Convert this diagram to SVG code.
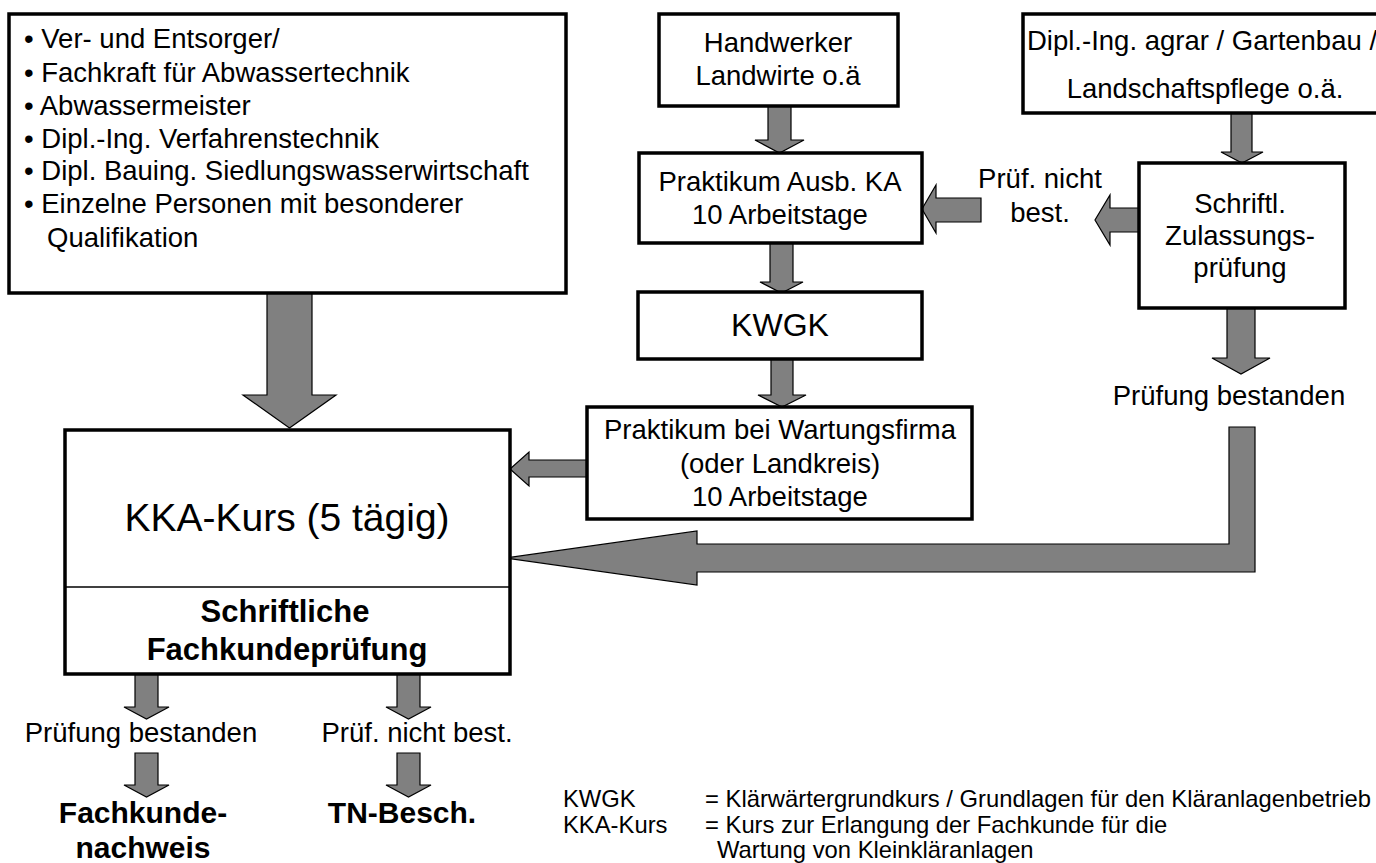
<svg xmlns="http://www.w3.org/2000/svg" width="1376" height="863" viewBox="0 0 1376 863">
<style>
.box{fill:#fff;stroke:#000;stroke-width:3.5}
.arr{fill:#808080;stroke:#000;stroke-width:1.2;stroke-linejoin:miter}
text{font-family:"Liberation Sans",Arial,sans-serif;fill:#000}
.t{font-size:27.5px}
.c{text-anchor:middle}
.b{font-weight:bold}
.lg{font-size:23.8px}
</style>
<rect width="1376" height="863" fill="#fff"/>
<g id="connectors">
<polygon class="arr" points="768,106 791,106 791,140 804,140 779.5,153 755,140 768,140"/>
<polygon class="arr" points="770,243 793,243 793,282 803,282 781.5,293 760,282 770,282"/>
<polygon class="arr" points="771,359 793,359 793,395 806,395 782,407 758,395 771,395"/>
<polygon class="arr" points="1231,113 1252,113 1252,152 1263,152 1242,163 1221,152 1231,152"/>
<polygon class="arr" points="1227,308 1255,308 1255,358 1270,358 1241,374 1212,358 1227,358"/>
<polygon class="arr" points="1139,208 1110,208 1110,195 1095,220 1110,245 1110,232 1139,232"/>
<polygon class="arr" points="981,198 936,198 936,185 922,209 936,233 936,222 981,222"/>
<polygon class="arr" points="587,460 529,460 529,452 510,469 529,486 529,477 587,477"/>
<polygon class="arr" points="267,293 312,293 312,395 336,395 289.5,428 243,395 267,395"/>
<polygon class="arr" points="506,558 697,531 697,544 1229,544 1229,427 1255,427 1255,572 697,572 697,585"/>
<polygon class="arr" points="135,674 158,674 158,707 169,707 146.5,719 124,707 135,707"/>
<polygon class="arr" points="397,674 420,674 420,707 431,707 408.5,719 386,707 397,707"/>
<polygon class="arr" points="135,753 158,753 158,785 169,785 146.5,797 124,785 135,785"/>
<polygon class="arr" points="397,753 420,753 420,785 431,785 408.5,797 386,785 397,785"/>
</g>
<g id="n_qual">
<rect class="box" x="9" y="14" width="557" height="279"/>
<text class="t" x="24" y="48">• Ver- und Entsorger/</text>
<text class="t" x="24" y="82">• Fachkraft für Abwassertechnik</text>
<text class="t" x="24" y="115">• Abwassermeister</text>
<text class="t" x="24" y="148">• Dipl.-Ing. Verfahrenstechnik</text>
<text class="t" x="24" y="180">• Dipl. Bauing. Siedlungswasserwirtschaft</text>
<text class="t" x="24" y="213">• Einzelne Personen mit besonderer</text>
<text class="t" x="47" y="247">Qualifikation</text>
</g>
<g id="n_handwerker">
<rect class="box" x="659" y="14" width="239" height="92"/>
<text class="t c" x="778" y="52">Handwerker</text>
<text class="t c" x="778" y="85">Landwirte o.ä</text>
</g>
<g id="n_praktikum_ka">
<rect class="box" x="639" y="153" width="283" height="90"/>
<text class="t c" x="780" y="191">Praktikum Ausb. KA</text>
<text class="t c" x="780" y="224">10 Arbeitstage</text>
</g>
<g id="n_kwgk">
<rect class="box" x="638" y="292" width="284" height="67"/>
<text class="c" x="780" y="336" font-size="32">KWGK</text>
</g>
<g id="n_wartung">
<rect class="box" x="587" y="407" width="385" height="112"/>
<text class="t c" x="780" y="439">Praktikum bei Wartungsfirma</text>
<text class="t c" x="780" y="473">(oder Landkreis)</text>
<text class="t c" x="780" y="506">10 Arbeitstage</text>
</g>
<g id="n_dipl">
<rect class="box" x="1023" y="14" width="370" height="99"/>
<text class="t" x="1027" y="50">Dipl.-Ing. agrar / Gartenbau /</text>
<text class="t c" x="1205" y="98">Landschaftspflege o.ä.</text>
</g>
<g id="n_schriftl">
<rect class="box" x="1139" y="163" width="206" height="145"/>
<text class="t c" x="1240" y="213">Schriftl.</text>
<text class="t c" x="1240" y="245">Zulassungs-</text>
<text class="t c" x="1240" y="277">prüfung</text>
</g>
<g id="l_pruef_nicht">
<text class="t c" x="1040" y="188">Prüf. nicht</text>
<text class="t c" x="1040" y="222">best.</text>
</g>
<g id="l_pruef_best_r">
<text class="t c" x="1229" y="405">Prüfung bestanden</text>
</g>
<g id="n_kka">
<rect class="box" x="65" y="430" width="445" height="244"/>
<line x1="65" y1="587" x2="510" y2="587" stroke="#000" stroke-width="1.5"/>
<text class="c" x="287" y="531" font-size="39">KKA-Kurs (5 tägig)</text>
<text class="c b" x="285" y="622" font-size="31">Schriftliche</text>
<text class="c b" x="287" y="660" font-size="31">Fachkundeprüfung</text>
</g>
<g id="l_bottom">
<text class="t c" x="141" y="742">Prüfung bestanden</text>
<text class="t c" x="417" y="742">Prüf. nicht best.</text>
</g>
<g id="n_fachkunde">
<text class="c b" x="143" y="823" font-size="30">Fachkunde-</text>
<text class="c b" x="143" y="858" font-size="30">nachweis</text>
</g>
<g id="n_tn">
<text class="c b" x="402" y="823" font-size="30">TN-Besch.</text>
</g>
<g id="legend">
<text class="lg" x="563" y="807">KWGK</text>
<text class="lg" x="705" y="807">= Klärwärtergrundkurs / Grundlagen für den Kläranlagenbetrieb</text>
<text class="lg" x="563" y="833">KKA-Kurs</text>
<text class="lg" x="705" y="833">= Kurs zur Erlangung der Fachkunde für die</text>
<text class="lg" x="717" y="858">Wartung von Kleinkläranlagen</text>
</g>
</svg>
